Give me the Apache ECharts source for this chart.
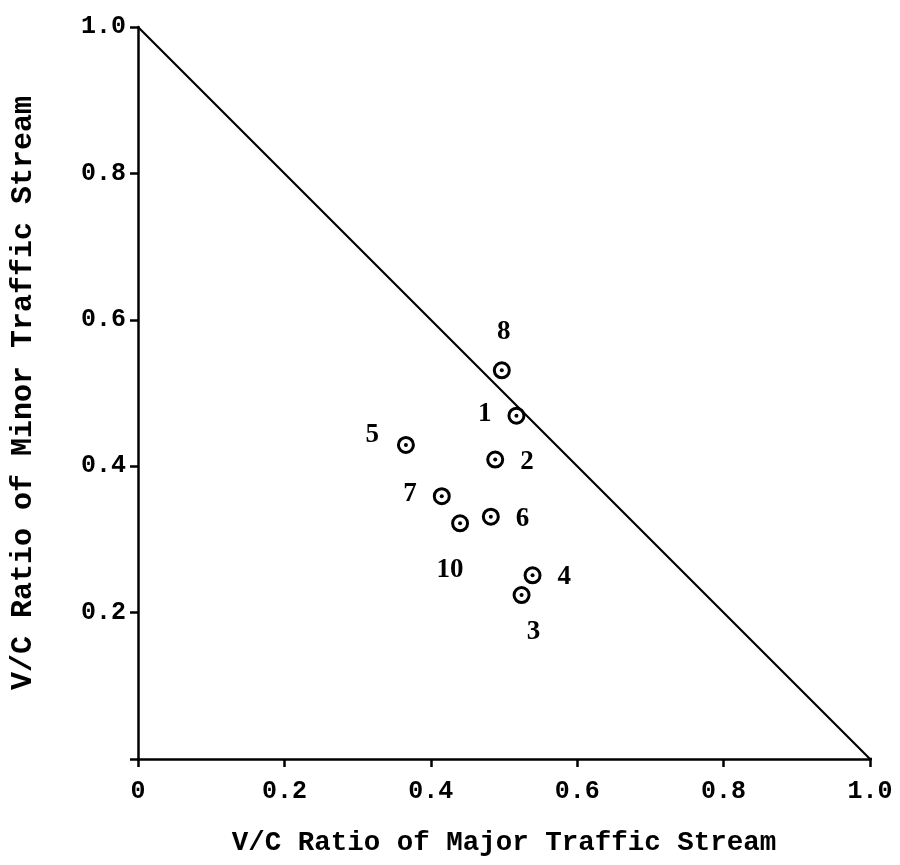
<!DOCTYPE html>
<html>
<head>
<meta charset="utf-8">
<script src="https://cdn.jsdelivr.net/npm/echarts@6/dist/echarts.min.js"></script>
<style>html,body{margin:0;padding:0;background:#fff}#c{width:900px;height:865px}</style>
</head>
<body>
<div id="c"></div>
<script>
// Data
var pointLabels = ['8', '1', '2', '5', '7', '10', '6', '4', '3'];
var majorVC = [0.497, 0.517, 0.488, 0.366, 0.415, 0.440, 0.482, 0.539, 0.524];
var minorVC = [0.531, 0.469, 0.409, 0.429, 0.359, 0.322, 0.331, 0.251, 0.224];
var labelPlace = ['top', 'left', 'right', 'left', 'left', 'bottom', 'right', 'right', 'bottom'];
var boundaryX = [0, 1];
var boundaryY = [1, 0];
var axisExtX = [1, 1.023];
var axisExtY = [0, 0];
var xTicks = ['0', '0.2', '0.4', '0.6', '0.8', '1.0'];
var yTicks = ['', '0.2', '0.4', '0.6', '0.8', '1.0'];

var labelOffsets = {
  top: [2, -4], left: [-4, -2], right: [4, 2], bottom: [-6, 10]
};
var pts = pointLabels.map(function (n, i) {
  var pos = labelPlace[i];
  var off = labelOffsets[pos].slice();
  if (n === '5') off = [-6, -10];
  if (n === '3') off = [12, 2];
  if (n === '10') off = [-10, 12];
  return {
    value: [majorVC[i], minorVC[i]],
    label: {
      show: true, formatter: n, position: pos, offset: off, distance: 12,
      color: '#000', opacity: 1
    }
  };
});
var dots = majorVC.map(function (x, i) { return [x, minorVC[i]]; });
var line = boundaryX.map(function (x, i) { return [x, boundaryY[i]]; });
var ext = axisExtX.map(function (x, i) { return [x, axisExtY[i]]; });

var chart = echarts.init(document.getElementById('c'));
var axisCommon = {
  type: 'value', min: 0, max: 1, interval: 0.2,
  splitLine: { show: false },
  axisLine: { show: true, lineStyle: { color: '#000', width: 2.5 } },
  axisTick: { show: true, length: 8, lineStyle: { color: '#000', width: 2.5 } },
  nameLocation: 'middle',
  nameTextStyle: { color: '#000', fontFamily: 'Liberation Mono', fontWeight: 'bold', fontSize: 27.5 },
  axisLabel: { color: '#000', fontFamily: 'Liberation Mono', fontWeight: 'bold', fontSize: 25 }
};
chart.setOption({
  backgroundColor: '#fff',
  animation: false,
  grid: { left: 133, right: 30, top: 27, bottom: 106 },
  xAxis: Object.assign({}, axisCommon, {
    name: 'V/C Ratio of Major Traffic Stream',
    nameGap: 70,
    axisLabel: Object.assign({}, axisCommon.axisLabel, {
      margin: 20,
      formatter: function (v) { return xTicks[Math.round(v / 0.2)]; }
    })
  }),
  yAxis: Object.assign({}, axisCommon, {
    name: 'V/C Ratio of Minor Traffic Stream',
    nameGap: 100,
    nameTextStyle: Object.assign({}, axisCommon.nameTextStyle, { fontSize: 30 }),
    axisLabel: Object.assign({}, axisCommon.axisLabel, {
      margin: 12,
      formatter: function (v) { return yTicks[Math.round(v / 0.2)]; }
    })
  }),
  series: [
    {
      type: 'line', data: line, symbol: 'none', silent: true,
      lineStyle: { color: '#000', width: 2.2 }
    },
    {
      type: 'line', data: ext, symbol: 'none', silent: true, clip: false,
      lineStyle: { color: '#000', width: 2.5 }
    },
    {
      type: 'scatter', data: pts, symbol: 'circle', symbolSize: 15,
      itemStyle: { color: '#fff', borderColor: '#000', borderWidth: 3, opacity: 1 },
      label: { color: '#000', fontFamily: 'Liberation Serif', fontWeight: 'bold', fontSize: 27 }
    },
    {
      type: 'scatter', data: dots, symbol: 'circle', symbolSize: 4,
      itemStyle: { color: '#000', opacity: 1 }, silent: true
    }
  ]
});
</script>
</body>
</html>
